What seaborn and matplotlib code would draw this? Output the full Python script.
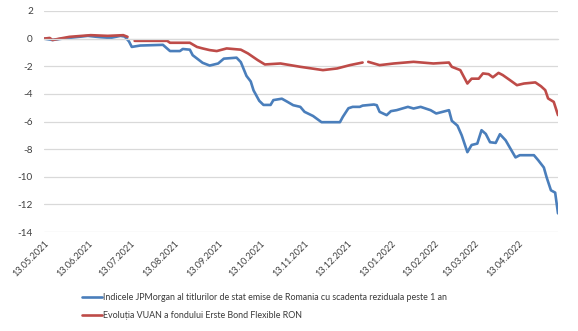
import matplotlib
matplotlib.use("Agg")
import matplotlib.pyplot as plt
import matplotlib.dates as mdates
import numpy as np
import pandas as pd
import seaborn as sns

# Cumulative evolution (%) since 13.05.2021
jpm_dates = [
    "2021-05-13", "2021-05-19", "2021-05-26", "2021-06-04", "2021-06-13", "2021-06-22",
    "2021-06-29", "2021-07-06", "2021-07-09", "2021-07-12", "2021-07-14", "2021-07-20",
    "2021-08-05", "2021-08-10", "2021-08-17", "2021-08-19", "2021-08-24", "2021-08-26",
    "2021-09-02", "2021-09-07", "2021-09-13", "2021-09-17", "2021-09-26", "2021-09-29",
    "2021-10-03", "2021-10-06", "2021-10-08", "2021-10-12", "2021-10-15", "2021-10-20",
    "2021-10-22", "2021-10-28", "2021-11-01", "2021-11-05", "2021-11-10", "2021-11-13",
    "2021-11-19", "2021-11-25", "2021-12-08", "2021-12-10", "2021-12-14", "2021-12-17",
    "2021-12-22", "2021-12-24", "2022-01-01", "2022-01-03", "2022-01-05", "2022-01-10",
    "2022-01-13", "2022-01-17", "2022-01-25", "2022-01-29", "2022-02-03", "2022-02-10",
    "2022-02-14", "2022-02-23", "2022-02-25", "2022-03-01", "2022-03-04", "2022-03-08",
    "2022-03-11", "2022-03-15", "2022-03-18", "2022-03-21", "2022-03-24", "2022-03-28",
    "2022-03-31", "2022-04-04", "2022-04-11", "2022-04-14", "2022-04-24", "2022-04-27",
    "2022-05-01", "2022-05-03", "2022-05-06", "2022-05-09", "2022-05-11",
]
jpm_values = [
    0.0, -0.1, 0.0, 0.1, 0.2, 0.1,
    0.05, 0.2, 0.15, -0.2, -0.6, -0.5,
    -0.45, -0.9, -0.9, -0.75, -0.8, -1.2,
    -1.75, -1.95, -1.8, -1.45, -1.38, -1.7,
    -2.7, -3.1, -3.75, -4.5, -4.8, -4.8,
    -4.45, -4.35, -4.58, -4.82, -4.94, -5.3,
    -5.6, -6.05, -6.05, -5.67, -5.04, -4.94,
    -4.94, -4.85, -4.77, -4.82, -5.3, -5.54,
    -5.25, -5.18, -4.94, -5.06, -4.94, -5.18,
    -5.42, -5.18, -5.95, -6.3, -7.0, -8.22,
    -7.7, -7.6, -6.63, -6.9, -7.5, -7.55,
    -6.92, -7.36, -8.6, -8.44, -8.44, -8.8,
    -9.33, -10.05, -10.98, -11.15, -12.65,
]

# Fund unit value evolution (%); None marks days without a published value
erste_dates = [
    "2021-05-13", "2021-05-17", "2021-05-19", "2021-05-24", "2021-05-31", "2021-06-15",
    "2021-06-27", "2021-07-08", "2021-07-11", "2021-07-13", "2021-07-16", "2021-08-08",
    "2021-08-10", "2021-08-24", "2021-08-29", "2021-09-02", "2021-09-07", "2021-09-12",
    "2021-09-19", "2021-09-29", "2021-10-04", "2021-10-11", "2021-10-16", "2021-10-27",
    "2021-11-03", "2021-11-10", "2021-11-26", "2021-12-06", "2021-12-15", "2021-12-24",
    "2021-12-26", "2021-12-28", "2022-01-05", "2022-01-15", "2022-01-29", "2022-02-12",
    "2022-02-23", "2022-02-25", "2022-03-03", "2022-03-08", "2022-03-11", "2022-03-16",
    "2022-03-19", "2022-03-23", "2022-03-26", "2022-03-30", "2022-04-02", "2022-04-07",
    "2022-04-12", "2022-04-17", "2022-04-25", "2022-04-29", "2022-05-02", "2022-05-04",
    "2022-05-08", "2022-05-11",
]
erste_values = [
    0.0, 0.05, -0.1, 0.0, 0.13, 0.25,
    0.2, 0.25, 0.13, None, -0.16, -0.16,
    -0.3, -0.3, -0.6, -0.71, -0.83, -0.9,
    -0.71, -0.8, -1.07, -1.56, -1.87, -1.8,
    -1.92, -2.04, -2.28, -2.16, -1.92, -1.73,
    None, -1.68, -1.92, -1.8, -1.68, -1.8,
    -1.73, -2.04, -2.28, -3.25, -2.9, -2.9,
    -2.52, -2.57, -2.8, -2.48, -2.64, -3.0,
    -3.37, -3.25, -3.17, -3.45, -3.73, -4.33,
    -4.58, -5.54,
]

series_labels = [
    "Indicele JPMorgan al titlurilor de stat emise de Romania cu scadenta reziduala peste 1 an",
    "Evoluția VUAN a fondului Erste Bond Flexible RON",
]
tick_dates = [
    "2021-05-13", "2021-06-13", "2021-07-13", "2021-08-13", "2021-09-13", "2021-10-13",
    "2021-11-13", "2021-12-13", "2022-01-13", "2022-02-13", "2022-03-13", "2022-04-13",
]
y_ticks = [2, 0, -2, -4, -6, -8, -10, -12, -14]


def to_frame(dates, values, label):
    df = pd.DataFrame({"date": pd.to_datetime(dates),
                       "value": pd.array(values, dtype="Float64").astype(float)})
    # consecutive runs between gaps become separate line units
    df["segment"] = df["value"].isna().cumsum()
    df["series"] = label
    return df.dropna(subset=["value"])


data = pd.concat([
    to_frame(jpm_dates, jpm_values, series_labels[0]),
    to_frame(erste_dates, erste_values, series_labels[1]),
], ignore_index=True)
data["unit"] = data["series"] + "_" + data["segment"].astype(str)

sns.set_theme(style="white")
plt.rcParams["font.family"] = ["Lato", "DejaVu Sans"]

fig = plt.figure(figsize=(5.78, 3.31), dpi=100)
ax = fig.add_axes([44 / 578, 1 - 232 / 331, (558 - 44) / 578, (232 - 11) / 331])

palette = {series_labels[0]: "#4A7EBB", series_labels[1]: "#BE4B48"}
sns.lineplot(data=data, x="date", y="value", hue="series", units="unit",
             estimator=None, palette=palette, hue_order=series_labels,
             linewidth=1.9, ax=ax, legend=True)

ax.set_ylim(-14, 2)
ax.set_xlim(pd.Timestamp("2021-05-13"), pd.Timestamp("2022-05-11"))
ax.set_yticks(y_ticks)
ax.set_yticklabels([str(v) for v in y_ticks])
ax.yaxis.grid(True, color="#D9D9D9", linewidth=0.9)
ax.set_axisbelow(True)
ax.set_xlabel("")
ax.set_ylabel("")
for side in ["left", "right", "top"]:
    ax.spines[side].set_visible(False)

# horizontal axis line runs through zero with small outward tick marks
ticks_num = mdates.date2num(pd.to_datetime(tick_dates))
ax.spines["bottom"].set_position(("data", 0))
ax.spines["bottom"].set_color("#D9D9D9")
ax.spines["bottom"].set_linewidth(0.9)
ax.set_xticks(ticks_num)
ax.tick_params(axis="x", labelbottom=False, direction="out", length=4,
               width=0.8, color="#D9D9D9")
ax.tick_params(axis="y", length=0, pad=8, labelsize=7.2, labelcolor="#404040")

# rotated date labels along the bottom of the plot area
sec = ax.secondary_xaxis("bottom")
sec.set_xticks(ticks_num, labels=[pd.Timestamp(d).strftime("%d.%m.%Y") for d in tick_dates])
sec.spines["bottom"].set_visible(False)
sec.tick_params(axis="x", length=0, pad=5, labelsize=6.6, labelcolor="#404040")
for lbl in sec.get_xticklabels():
    lbl.set_rotation(45)
    lbl.set_ha("right")
    lbl.set_rotation_mode("anchor")

handles, labels = ax.get_legend_handles_labels()
ax.get_legend().remove()
fig.legend(handles, labels, loc="upper left", bbox_to_anchor=(82 / 578, 1 - 293 / 331),
           frameon=False, fontsize=6.4, handlelength=2.3, handletextpad=0.05,
           labelspacing=1.05, borderaxespad=0, borderpad=0, labelcolor="#3A3A3A")

fig.savefig("out.png", dpi=100)
